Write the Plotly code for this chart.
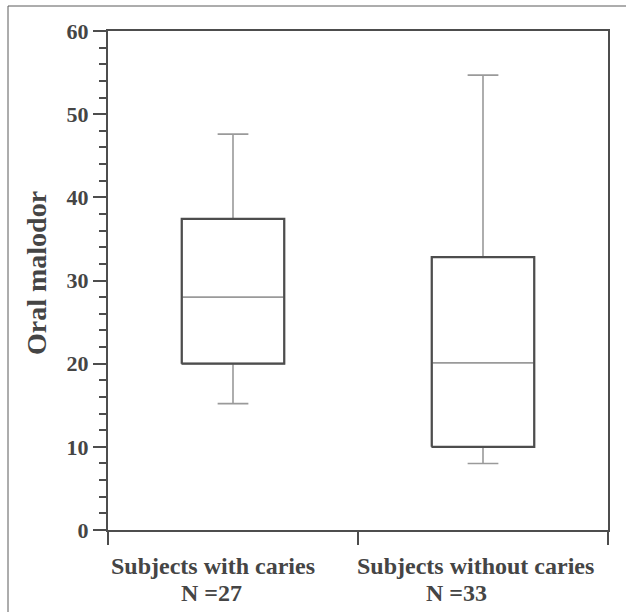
import plotly.graph_objects as go

# ---- data ----
groups = ["Subjects with caries", "Subjects without caries"]
n_labels = ["N =27", "N =33"]
positions = [0, 1]
lower_whisker = [15.2, 8.0]
q1 = [20.0, 10.0]
median = [28.0, 20.1]
q3 = [37.4, 32.8]
upper_whisker = [47.6, 54.7]
y_ticks = [0, 10, 20, 30, 40, 50, 60]
x_boundaries = [-0.5, 0.5, 1.5]

BOX_W = 0.41
DARK = "#4d4d4d"
LIGHT = "#9a9a9a"
TXT = "#454545"
FONT = "Liberation Serif"

fig = go.Figure()

fig.add_trace(go.Box(
    x=positions, q1=q1, median=median, q3=q3,
    lowerfence=lower_whisker, upperfence=upper_whisker,
    width=BOX_W, whiskerwidth=0.3,
    line=dict(color=LIGHT, width=1.6), fillcolor="white",
    boxpoints=False, hoverinfo="skip", showlegend=False,
))

# dark outline of the boxes (from q1/q3)
ox, oy = [], []
for p, a, b in zip(positions, q1, q3):
    l, r = p - BOX_W / 2, p + BOX_W / 2
    ox += [l, r, r, l, l, None]
    oy += [a, a, b, b, a, None]
fig.add_trace(go.Scatter(x=ox, y=oy, mode="lines",
                         line=dict(color=DARK, width=2.2),
                         hoverinfo="skip", showlegend=False))

annotations = []
shifts1 = [-20.5, -7.5]
shifts2 = [-22, -26.5]
for p, g, n, s1, s2 in zip(positions, groups, n_labels, shifts1, shifts2):
    annotations.append(dict(x=p, y=0, xref="x", yref="y", text="<b>%s</b>" % g, showarrow=False,
                            xshift=s1, yshift=-36, xanchor="center", yanchor="middle",
                            font=dict(family=FONT, size=24, color=TXT)))
    annotations.append(dict(x=p, y=0, xref="x", yref="y", text="<b>%s</b>" % n, showarrow=False,
                            xshift=s2, yshift=-63, xanchor="center", yanchor="middle",
                            font=dict(family=FONT, size=24, color=TXT)))

annotations.append(dict(x=-0.143, y=0.514, xref="paper", yref="paper",
                        text="<b>Oral malodor</b>", textangle=-90, showarrow=False,
                        xanchor="center", yanchor="middle",
                        font=dict(family=FONT, size=28, color=TXT)))

fig.update_layout(
    width=626, height=612,
    margin=dict(l=108, r=18, t=31, b=82),
    paper_bgcolor="white", plot_bgcolor="white",
    annotations=annotations,
    shapes=[dict(type="rect", xref="paper", yref="paper",
                 x0=-0.2, y0=-0.3, x1=1.15, y1=1.0501,
                 line=dict(color="#5a5a5a", width=1))],
    xaxis=dict(range=[-0.5, 1.5], tickmode="array", tickvals=x_boundaries,
               showticklabels=False, ticks="outside", ticklen=13, tickwidth=2,
               tickcolor=DARK, showline=True, linecolor=DARK, linewidth=2,
               mirror=True, showgrid=False, zeroline=False),
    yaxis=dict(range=[0, 60], tickmode="array", tickvals=y_ticks,
               ticktext=["<b>%d</b>" % v for v in y_ticks],
               ticks="outside", ticklen=13, tickwidth=2, tickcolor=DARK,
               minor=dict(dtick=2, ticks="outside", ticklen=7, tickwidth=2,
                          tickcolor=DARK, showgrid=False),
               tickfont=dict(family=FONT, size=22, color=TXT),
               showline=True, linecolor=DARK, linewidth=2, mirror=True,
               showgrid=False, zeroline=False),
)

fig.write_html("out.html")
